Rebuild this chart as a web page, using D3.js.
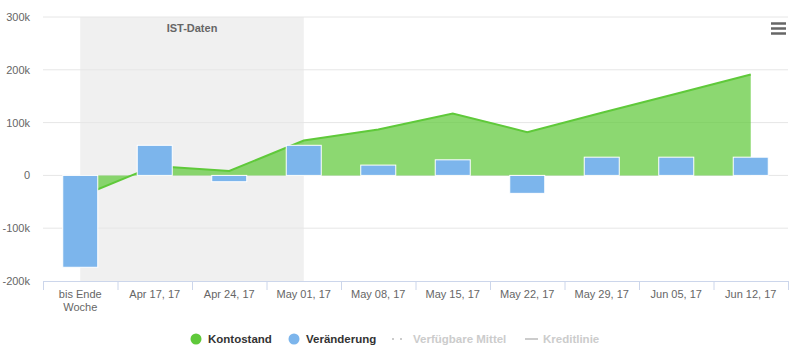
<!DOCTYPE html>
<html>
<head>
<meta charset="utf-8">
<script src="https://cdn.jsdelivr.net/npm/d3@7"></script>
<style>
  body { margin: 0; background: #fff; }
  text { font-family: "Liberation Sans", Arial, sans-serif; }
</style>
</head>
<body>
<div id="container"></div>
<script>
/* DATA */
const categories = ["bis Ende Woche", "Apr 17, 17", "Apr 24, 17", "May 01, 17", "May 08, 17",
  "May 15, 17", "May 22, 17", "May 29, 17", "Jun 05, 17", "Jun 12, 17"];
const kontostand = [-40000, 18000, 8500, 66000, 87000, 117000, 82000, 118500, 154500, 191000];
const veraenderung = [-174000, 57000, -12000, 57000, 19500, 29500, -34000, 34500, 34500, 34500];
const yTicks = [-200000, -100000, 0, 100000, 200000, 300000];
const bandLabel = "IST-Daten";
const bandFrom = categories[0], bandTo = categories[3];
const legendItems = [
  {name: "Kontostand", symbol: "dot", color: "#5fc93a", active: true},
  {name: "Veränderung", symbol: "dot", color: "#7cb5ec", active: true},
  {name: "Verfügbare Mittel", symbol: "dots", color: "#ccc", active: false},
  {name: "Kreditlinie", symbol: "line", color: "#ccc", active: false}
];

/* CONSTANTS */
const width = 800, height = 351;
const margin = {top: 17, bottom: 70, left: 43, right: 12};

const svg = d3.select("#container").append("svg")
  .attr("width", width).attr("height", height);

/* SCALES */
const xScale = d3.scaleBand()
  .domain(categories)
  .range([margin.left, width - margin.right]);
const xBar = d3.scaleBand()
  .domain(categories)
  .range([margin.left, width - margin.right])
  .paddingInner(0.53).paddingOuter(0.265);
const yScale = d3.scaleLinear()
  .domain([-200000, 300000])
  .range([height - margin.bottom, margin.top]);
const cx = c => xScale(c) + xScale.bandwidth() / 2;

// plot band
svg.append("rect")
  .attr("x", cx(bandFrom))
  .attr("width", cx(bandTo) - cx(bandFrom))
  .attr("y", margin.top)
  .attr("height", yScale(-200000) - margin.top)
  .attr("fill", "#f0f0f0");
svg.append("text")
  .attr("x", (cx(bandFrom) + cx(bandTo)) / 2)
  .attr("y", margin.top + 15)
  .attr("text-anchor", "middle")
  .attr("font-size", 11).attr("font-weight", "bold")
  .attr("fill", "#666")
  .text(bandLabel);

// gridlines + y labels
svg.append("g").selectAll("line")
  .data(yTicks.filter(d => d !== -200000))
  .join("line")
  .attr("x1", margin.left).attr("x2", width - margin.right)
  .attr("y1", d => yScale(d)).attr("y2", d => yScale(d))
  .attr("stroke", "#e6e6e6");
svg.append("g").selectAll("text")
  .data(yTicks)
  .join("text")
  .attr("x", 30)
  .attr("y", d => yScale(d) + 4)
  .attr("text-anchor", "end")
  .attr("font-size", 11)
  .attr("fill", "#666")
  .text(d => d === 0 ? "0" : (d / 1000) + "k");

// area Kontostand
const pts = categories.map((c, i) => [c, kontostand[i]]);
const area = d3.area()
  .x(d => cx(d[0]))
  .y0(yScale(0))
  .y1(d => yScale(d[1]));
const line = d3.line()
  .x(d => cx(d[0]))
  .y(d => yScale(d[1]));
svg.append("path").datum(pts)
  .attr("d", area)
  .attr("fill", "#5fc93a").attr("fill-opacity", 0.72);
svg.append("path").datum(pts)
  .attr("d", line)
  .attr("fill", "none")
  .attr("stroke", "#5fc93a").attr("stroke-width", 2);

// bars Veränderung
svg.append("g").selectAll("rect")
  .data(categories.map((c, i) => [c, veraenderung[i]]))
  .join("rect")
  .attr("x", d => xBar(d[0]))
  .attr("width", xBar.bandwidth())
  .attr("y", d => yScale(Math.max(0, d[1])))
  .attr("height", d => Math.abs(yScale(d[1]) - yScale(0)))
  .attr("fill", "#7cb5ec")
  .attr("stroke", "#fff").attr("stroke-width", 1);

// x axis
const axisY = yScale(-200000);
svg.append("line")
  .attr("x1", margin.left).attr("x2", width - margin.right)
  .attr("y1", axisY + 0.5).attr("y2", axisY + 0.5)
  .attr("stroke", "#ccd6eb");
svg.append("g").selectAll("line")
  .data(categories.concat(["end"]))
  .join("line")
  .attr("x1", (d, i) => margin.left + i * xScale.step() + 0.5)
  .attr("x2", (d, i) => margin.left + i * xScale.step() + 0.5)
  .attr("y1", axisY).attr("y2", axisY + 9)
  .attr("stroke", "#ccd6eb");
const xl = svg.append("g").selectAll("text")
  .data(categories)
  .join("text")
  .attr("x", d => cx(d))
  .attr("y", axisY + 17)
  .attr("text-anchor", "middle")
  .attr("font-size", 11)
  .attr("fill", "#666");
xl.each(function(d) {
  const t = d3.select(this);
  if (d === "bis Ende Woche") {
    t.append("tspan").attr("x", cx(d)).text("bis Ende");
    t.append("tspan").attr("x", cx(d)).attr("dy", 13).text("Woche");
  } else {
    t.text(d);
  }
});

// menu icon
svg.append("g").selectAll("line")
  .data([0, 5, 10])
  .join("line")
  .attr("x1", 771).attr("x2", 786)
  .attr("y1", d => 23.5 + d).attr("y2", d => 23.5 + d)
  .attr("stroke", "#666").attr("stroke-width", 2.5);

// legend
const legY = 339;
const legX = [196, 294, 397, 531];
const leg = svg.append("g");
legendItems.forEach((it, i) => {
  const x = legX[i];
  if (it.symbol === "dot") {
    leg.append("circle").attr("cx", x).attr("cy", legY).attr("r", 5.5).attr("fill", it.color);
  } else if (it.symbol === "dots") {
    leg.append("line").attr("x1", x - 5).attr("x2", x + 7).attr("y1", legY).attr("y2", legY)
      .attr("stroke", it.color).attr("stroke-width", 2).attr("stroke-dasharray", "2,6");
  } else {
    leg.append("line").attr("x1", x - 6).attr("x2", x + 7).attr("y1", legY).attr("y2", legY)
      .attr("stroke", it.color).attr("stroke-width", 2);
  }
  leg.append("text")
    .attr("x", x + (it.symbol === "dot" ? 12 : (it.symbol === "dots" ? 16 : 12)))
    .attr("y", legY + 4)
    .attr("font-size", 11.5).attr("font-weight", "bold")
    .attr("fill", it.active ? "#333" : "#ccc")
    .text(it.name);
});
</script>
</body>
</html>
